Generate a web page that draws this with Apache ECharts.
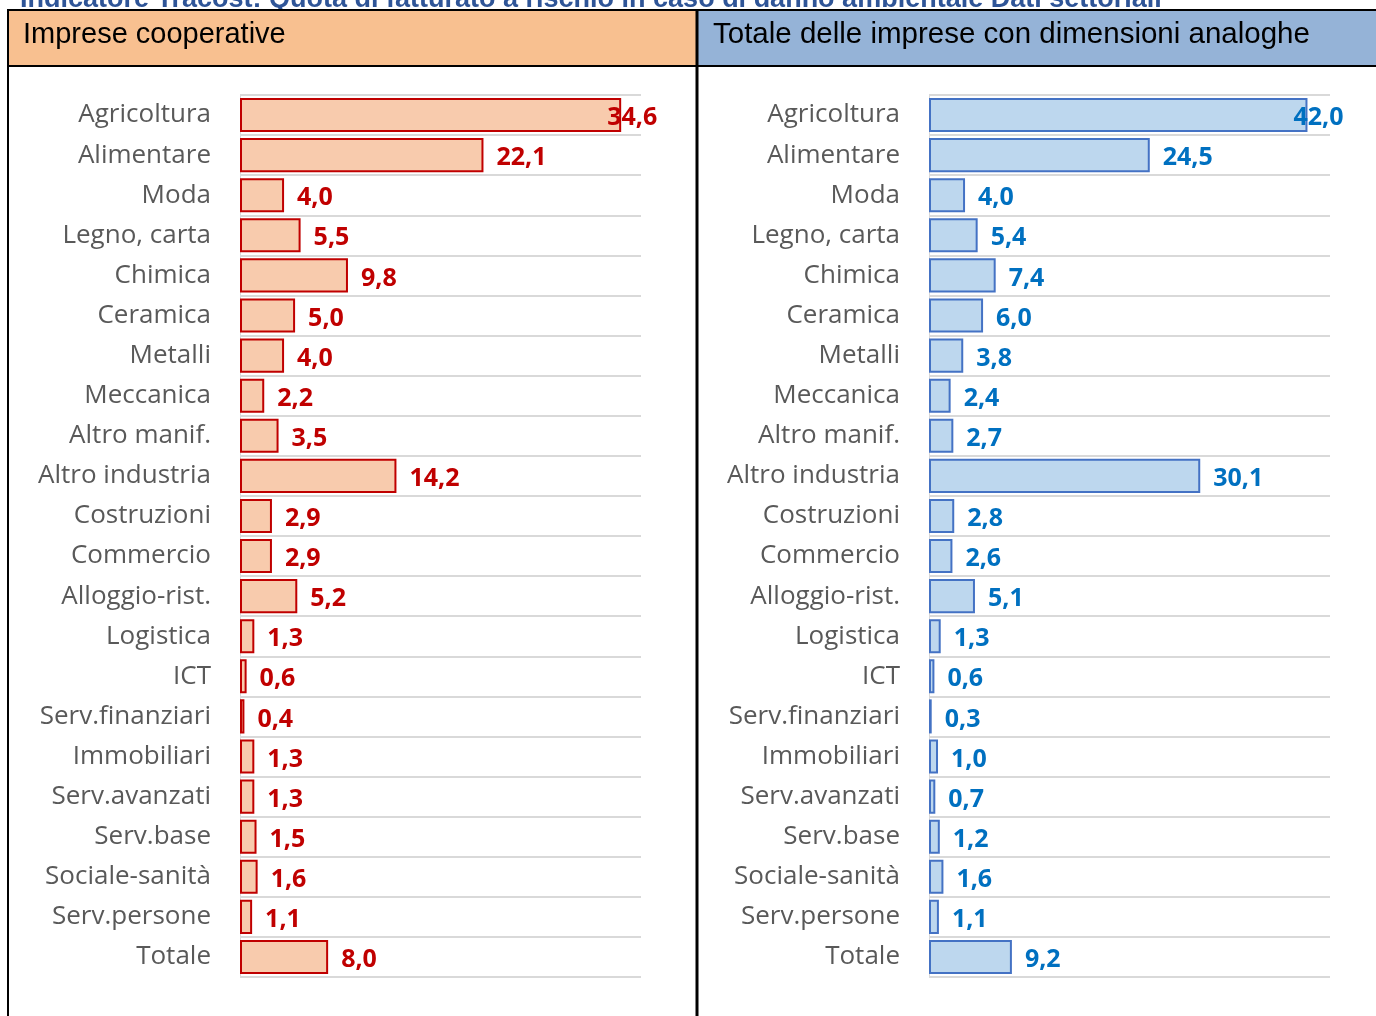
<!DOCTYPE html>
<html>
<head>
<meta charset="utf-8">
<script src="https://cdn.jsdelivr.net/npm/echarts@6/dist/echarts.min.js"></script>
<style>
  html, body { margin: 0; padding: 0; background: #fff; }
  #chart { width: 1376px; height: 1016px; }
</style>
</head>
<body>
<div id="chart"></div>
<script>
const categories = [
  "Agricoltura", "Alimentare", "Moda", "Legno, carta", "Chimica", "Ceramica",
  "Metalli", "Meccanica", "Altro manif.", "Altro industria", "Costruzioni",
  "Commercio", "Alloggio-rist.", "Logistica", "ICT", "Serv.finanziari",
  "Immobiliari", "Serv.avanzati", "Serv.base", "Sociale-sanità", "Serv.persone", "Totale"
];
const cooperative = [34.6, 22.1, 4.0, 5.5, 9.8, 5.0, 4.0, 2.2, 3.5, 14.2, 2.9, 2.9, 5.2, 1.3, 0.6, 0.4, 1.3, 1.3, 1.5, 1.6, 1.1, 8.0];
const totaleImprese = [42.0, 24.5, 4.0, 5.4, 7.4, 6.0, 3.8, 2.4, 2.7, 30.1, 2.8, 2.6, 5.1, 1.3, 0.6, 0.3, 1.0, 0.7, 1.2, 1.6, 1.1, 9.2];

const chart = echarts.init(document.getElementById("chart"));

const fmt = (p) => p.value.toFixed(1).replace(".", ",");

function catAxis(gridIndex) {
  return {
    type: "category",
    gridIndex,
    data: categories,
    inverse: true,
    axisTick: { show: false },
    axisLine: { show: true, lineStyle: { color: "#D9D9D9", width: 1 } },
    splitLine: { show: true, lineStyle: { color: "#D9D9D9", width: 2 } },
    axisLabel: {
      margin: 29,
      color: "#595959",
      fontFamily: "Open Sans",
      fontSize: 26,
      padding: [6, 0, 0, 0]
    }
  };
}

function valAxis(gridIndex, max) {
  return {
    type: "value",
    gridIndex,
    min: 0,
    max,
    show: false,
    splitLine: { show: false }
  };
}

function barSeries(idx, values, fill, border, labelColor) {
  return {
    type: "bar",
    xAxisIndex: idx,
    yAxisIndex: idx,
    barCategoryGap: "15%",
    data: values.map((v, i) => i === 0 ? { value: v, label: { distance: -14 } } : v),
    itemStyle: { color: fill, borderColor: border, borderWidth: 2 },
    label: {
      show: true,
      position: "right",
      distance: 13,
      offset: [0, 3],
      formatter: fmt,
      color: labelColor,
      fontFamily: "Open Sans",
      fontWeight: "bold",
      fontSize: 25
    },
    z: 3
  };
}

chart.setOption({
  animation: false,
  backgroundColor: "#fff",
  graphic: [
    { type: "text", left: 20, top: -14, style: {
      text: "Indicatore Tracost: Quota di fatturato a rischio in caso di danno ambientale Dati settoriali",
      fill: "#2F5597", font: "bold 27px 'Liberation Sans'" } },
    { type: "rect", shape: { x: 8, y: 10, width: 689, height: 57 }, style: { fill: "#F8C090" } },
    { type: "rect", shape: { x: 697, y: 10, width: 700, height: 57 }, style: { fill: "#95B3D7" } },
    { type: "rect", shape: { x: 8, y: 10, width: 1400, height: 1020 }, style: { fill: null, stroke: "#000", lineWidth: 2 } },
    { type: "line", shape: { x1: 8, y1: 66, x2: 1376, y2: 66 }, style: { stroke: "#000", lineWidth: 2 } },
    { type: "line", shape: { x1: 697, y1: 10, x2: 697, y2: 1016 }, style: { stroke: "#000", lineWidth: 3 } },
    { type: "text", left: 23, top: 20, style: { text: "Imprese cooperative", fill: "#000", font: "29px 'Liberation Sans'" } },
    { type: "text", left: 713, top: 20, style: { text: "Totale delle imprese con dimensioni analoghe", fill: "#000", font: "29.5px 'Liberation Sans'" } }
  ],
  grid: [
    { left: 240, top: 95, width: 401, height: 882 },
    { left: 929, top: 95, width: 401, height: 882 }
  ],
  xAxis: [valAxis(0, 36.4), valAxis(1, 44.5)],
  yAxis: [catAxis(0), catAxis(1)],
  series: [
    barSeries(0, cooperative, "#F8CBAD", "#C00000", "#C00000"),
    barSeries(1, totaleImprese, "#BDD7EE", "#4472C4", "#0070C0")
  ]
});
</script>
</body>
</html>
